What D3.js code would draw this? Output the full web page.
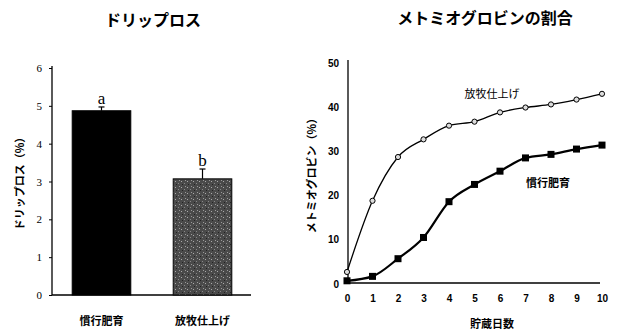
<!DOCTYPE html>
<html><head><meta charset="utf-8">
<script src="https://cdn.jsdelivr.net/npm/d3@7"></script>
<style>
body{margin:0;background:#fff;}
svg{display:block;font-family:"Noto Sans CJK JP","Noto Sans",sans-serif;}
</style></head>
<body><svg id="c" width="620" height="333"></svg>
<script>
// Drip loss data
const barCategories = ["慣行肥育", "放牧仕上げ"];
const barValues = [4.87, 3.07];
const barErrors = [0.1, 0.26];
const barLetters = ["a", "b"];
const barTicks = [0, 1, 2, 3, 4, 5, 6];

// Metmyoglobin data
const days = [0, 1, 2, 3, 4, 5, 6, 7, 8, 9, 10];
const grazing = [2.5, 18.6, 28.5, 32.5, 35.6, 36.5, 38.6, 39.7, 40.4, 41.5, 42.8];
const conventional = [0.5, 1.5, 5.5, 10.3, 18.4, 22.3, 25.3, 28.3, 29.1, 30.3, 31.2];
const lineTicks = [0, 10, 20, 30, 40, 50];

const svg = d3.select("#c");
const jp = '"Noto Sans CJK JP",sans-serif';

// ---------- Left chart ----------
const L = svg.append("g");
const y1 = d3.scaleLinear().domain([0, 6]).range([295, 68]);
const x1 = d3.scaleBand().domain(barCategories).range([52, 252]).paddingInner(0.42).paddingOuter(0.2);

L.append("text").attr("x", 153).attr("y", 26).attr("text-anchor", "middle")
  .attr("font-size", 16).attr("font-weight", "bold").attr("font-family", jp).text("ドリップロス");

const yAx1 = L.append("g").attr("transform", "translate(52,0)")
  .call(d3.axisLeft(y1).tickValues(barTicks).tickSize(3).tickFormat(d3.format("d")));
yAx1.select(".domain").attr("stroke", "#000").attr("stroke-width", 1.3).attr("d", "M0,66V295");
yAx1.selectAll("text").attr("font-size", 11).attr("font-family", '"Liberation Serif",serif').attr("dx", -4);
L.append("line").attr("x1", 52).attr("x2", 251).attr("y1", 295).attr("y2", 295).attr("stroke", "#000").attr("stroke-width", 1.3);

const defs = svg.append("defs");
const pat = defs.append("pattern").attr("id", "grain").attr("patternUnits", "userSpaceOnUse").attr("width", 6).attr("height", 6);
pat.append("rect").attr("width", 6).attr("height", 6).attr("fill", "#4a4a4a");
pat.append("rect").attr("x", 1).attr("y", 1).attr("width", 1).attr("height", 1).attr("fill", "#aaa");
pat.append("rect").attr("x", 4).attr("y", 3).attr("width", 1).attr("height", 1).attr("fill", "#888");
pat.append("rect").attr("x", 2).attr("y", 4).attr("width", 1).attr("height", 1).attr("fill", "#222");
pat.append("rect").attr("x", 5).attr("y", 0).attr("width", 1).attr("height", 1).attr("fill", "#999");

barCategories.forEach((c, i) => {
  const bx = x1(c), bw = x1.bandwidth(), cx = bx + bw / 2;
  L.append("line").attr("x1", cx).attr("x2", cx).attr("y1", y1(barValues[i])).attr("y2", y1(barValues[i] + barErrors[i]))
    .attr("stroke", "#000").attr("stroke-width", 1.2);
  L.append("line").attr("x1", cx - 3).attr("x2", cx + 3).attr("y1", y1(barValues[i] + barErrors[i])).attr("y2", y1(barValues[i] + barErrors[i]))
    .attr("stroke", "#000").attr("stroke-width", 1.2);
  L.append("rect").attr("x", bx).attr("y", y1(barValues[i])).attr("width", bw).attr("height", y1(0) - y1(barValues[i]))
    .attr("fill", i === 0 ? "#000" : "url(#grain)").attr("stroke", "#000").attr("stroke-width", 1);
  L.append("text").attr("x", cx).attr("y", y1(barValues[i] + barErrors[i]) - 3).attr("text-anchor", "middle")
    .attr("font-size", 17).attr("font-family", '"Liberation Serif",serif').text(barLetters[i]);
  L.append("text").attr("x", cx).attr("y", 325).attr("text-anchor", "middle")
    .attr("font-size", 11).attr("font-weight", "bold").attr("font-family", jp).text(c);
});

L.append("text").attr("transform", "translate(24,181) rotate(-90)").attr("text-anchor", "middle")
  .attr("font-size", 11).attr("font-weight", "bold").attr("font-family", jp).text("ドリップロス（%）");

// ---------- Right chart ----------
const R = svg.append("g");
const x2 = d3.scaleLinear().domain([0, 10]).range([347, 602]);
const y2 = d3.scaleLinear().domain([0, 50]).range([283, 62]);

R.append("text").attr("x", 485).attr("y", 24).attr("text-anchor", "middle")
  .attr("font-size", 16).attr("font-weight", "bold").attr("font-family", jp).text("メトミオグロビンの割合");

const yAx2 = R.append("g").attr("transform", "translate(348,0)")
  .call(d3.axisLeft(y2).tickValues(lineTicks).tickSize(0).tickFormat(d3.format("d")));
yAx2.select(".domain").attr("stroke", "#000").attr("stroke-width", 1.3).attr("d", "M0,60V283");
yAx2.selectAll("text").attr("font-size", 10).attr("font-weight", "bold").attr("font-family", '"Liberation Sans",sans-serif').attr("dx", -6).attr("dy", "0.4em");

const xAx2 = R.append("g").attr("transform", "translate(0,283)")
  .call(d3.axisBottom(x2).tickValues(days).tickSize(0).tickFormat(d3.format("d")));
xAx2.select(".domain").attr("stroke", "#000").attr("stroke-width", 1.3).attr("d", "M347,0H600");
xAx2.selectAll("text").attr("font-size", 10).attr("font-weight", "bold").attr("font-family", '"Liberation Sans",sans-serif').attr("dy", "1.6em");

const line = d3.line().x((d, i) => x2(days[i])).y(d => y2(d)).curve(d3.curveMonotoneX);
R.append("path").attr("d", line(grazing)).attr("fill", "none").attr("stroke", "#000").attr("stroke-width", 1.3);
R.append("path").attr("d", line(conventional)).attr("fill", "none").attr("stroke", "#000").attr("stroke-width", 2.2);

R.selectAll("circle.g").data(grazing).join("circle").attr("class", "g")
  .attr("cx", (d, i) => x2(days[i])).attr("cy", d => y2(d)).attr("r", 2.6)
  .attr("fill", "#ddd").attr("stroke", "#000").attr("stroke-width", 1);
R.selectAll("rect.c").data(conventional).join("rect").attr("class", "c")
  .attr("x", (d, i) => x2(days[i]) - 3.5).attr("y", d => y2(d) - 3.5).attr("width", 7).attr("height", 7).attr("fill", "#000");

R.append("text").attr("x", 492).attr("y", 98).attr("text-anchor", "middle")
  .attr("font-size", 11).attr("font-family", jp).text("放牧仕上げ");
R.append("text").attr("x", 548).attr("y", 187).attr("text-anchor", "middle")
  .attr("font-size", 11).attr("font-weight", "bold").attr("font-family", jp).text("慣行肥育");
R.append("text").attr("x", 492).attr("y", 328).attr("text-anchor", "middle")
  .attr("font-size", 11).attr("font-weight", "bold").attr("font-family", jp).text("貯蔵日数");
R.append("text").attr("transform", "translate(316,173) rotate(-90)").attr("text-anchor", "middle")
  .attr("font-size", 11).attr("font-weight", "bold").attr("font-family", jp).text("メトミオグロビン（%）");
</script></body></html>
